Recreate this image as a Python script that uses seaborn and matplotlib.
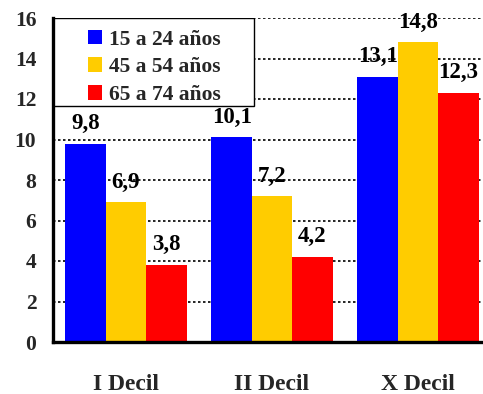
import matplotlib
matplotlib.use("Agg")
import matplotlib.pyplot as plt
from matplotlib.patches import Rectangle
import seaborn as sns
import pandas as pd

categories = ["I Decil", "II Decil", "X Decil"]
groups = ["15 a 24 años", "45 a 54 años", "65 a 74 años"]
values_15_24 = [9.8, 10.1, 13.1]
values_45_54 = [6.9, 7.2, 14.8]
values_65_74 = [3.8, 4.2, 12.3]
colors = ["#0000FF", "#FFCC00", "#FF0000"]
y_ticks = [0, 2, 4, 6, 8, 10, 12, 14, 16]

sns.set_style("white")
plt.rcParams["font.family"] = ["Liberation Serif", "DejaVu Serif"]
plt.rcParams["font.weight"] = "bold"

rows = []
for g, vals in zip(groups, [values_15_24, values_45_54, values_65_74]):
    for c, v in zip(categories, vals):
        rows.append({"decil": c, "grupo": g, "valor": v})
df = pd.DataFrame(rows)

fig = plt.figure(figsize=(4.83, 3.94), dpi=100)
ax = fig.add_axes([53 / 483, 52 / 394, 438 / 483, 324 / 394])

sns.barplot(data=df, x="decil", y="valor", hue="grupo", order=categories,
            hue_order=groups, palette=colors, saturation=1, width=0.83,
            gap=0, errorbar=None, ax=ax, zorder=2, legend=False,
            linewidth=0, edgecolor="none")

for cont in ax.containers:
    labels = [f"{b.get_height():.1f}".replace(".", ",") for b in cont]
    ax.bar_label(cont, labels=labels, padding=7, fontsize=16.5,
                 fontweight="bold", color="black")

ax.set_ylim(0, 16)
ax.set_xlim(-0.5, 2.5)
ax.set_yticks(y_ticks)
ax.set_yticklabels([str(t) for t in y_ticks], fontsize=15.5, fontweight="bold")
ax.set_xticks(range(len(categories)))
ax.set_xticklabels(categories, fontsize=17, fontweight="bold")
ax.set_xticks([-0.5, 0.5, 1.5], minor=True)
ax.tick_params(axis="x", which="major", length=0, pad=23)
ax.tick_params(axis="x", which="minor", length=7, width=2.2, direction="out")
ax.tick_params(axis="y", length=7, width=2.2, direction="out", pad=5)
ax.set_xlabel("")
ax.set_ylabel("")

for y in y_ticks[1:]:
    ax.axhline(y, color="black", linestyle=(0, (1.5, 1.5)), linewidth=1.2, zorder=1)

for s in ["top", "right"]:
    ax.spines[s].set_visible(False)
for s in ["left", "bottom"]:
    ax.spines[s].set_linewidth(2.4)
    ax.spines[s].set_color("black")
    ax.spines[s].set_zorder(4)

# legend box
box = Rectangle((0, (342 - 106) / 324), (254 - 53) / 438, 1 - (342 - 106) / 324,
                transform=ax.transAxes, facecolor="white", edgecolor="black",
                linewidth=1.0, zorder=3)
ax.add_patch(box)
handles = [Rectangle((0, 0), 1, 1, facecolor=c, edgecolor="none") for c in colors]
leg = ax.legend(handles, groups, loc="upper left",
                bbox_to_anchor=((79 - 53) / 438, 1 - 3 / 324), frameon=False,
                handlelength=0.68, handleheight=0.68,
                handletextpad=0.3, labelspacing=0.35, borderaxespad=0,
                prop={"weight": "bold", "size": 15.5})
leg.set_zorder(5)

fig.savefig("out.png", dpi=100)
